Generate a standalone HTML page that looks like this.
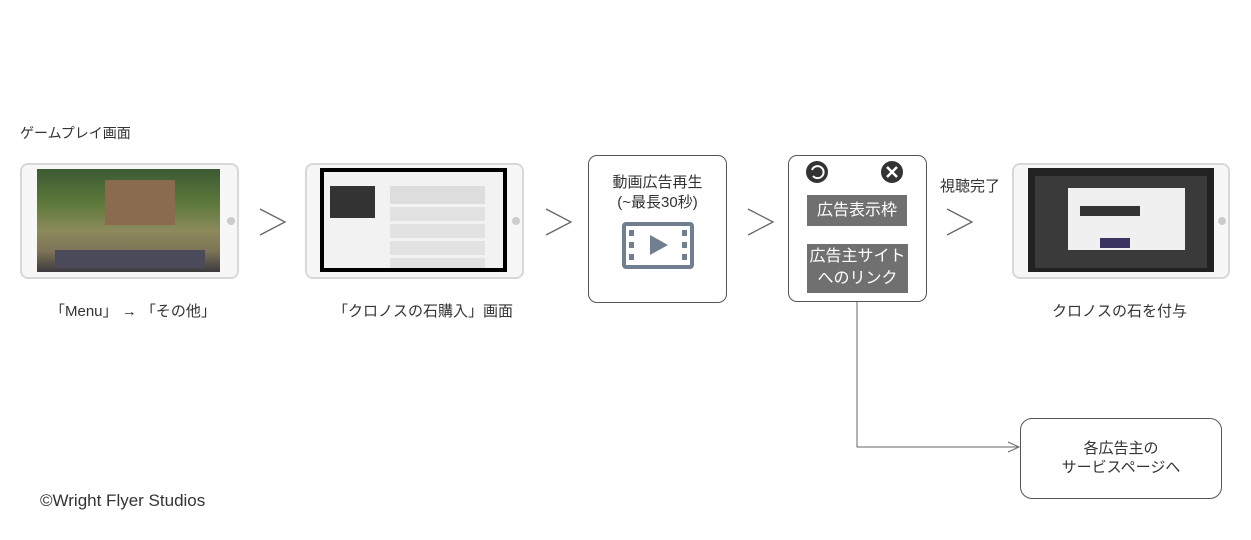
<!DOCTYPE html>
<html><head><meta charset="utf-8"><style>
body{margin:0;width:1251px;height:540px;background:#fff;position:relative;overflow:hidden;font-family:"Liberation Sans","Noto Sans CJK JP",sans-serif;color:#333}
.a{position:absolute}
.tab{position:absolute;border:2px solid #d8d8d8;border-radius:8px;background:#f7f7f7;box-sizing:border-box}
.dot{position:absolute;width:8px;height:8px;border-radius:50%;background:#ccc}
.box{position:absolute;border:1px solid #555;border-radius:9px;box-sizing:border-box;background:#fff}
.t{position:absolute;font-size:15px;white-space:nowrap}
.gb{position:absolute;background:#707070;color:#fff;font-size:16px;text-align:center;line-height:22px}
</style></head><body>
<div class="t" style="left:20px;top:123px;font-size:14px">ゲームプレイ画面</div>

<div class="tab" style="left:20px;top:163px;width:219px;height:116px"></div>
<div class="a" style="left:37px;top:169px;width:183px;height:103px;background:linear-gradient(180deg,#3c5a33 0%,#5f7a3c 35%,#8c8a5c 60%,#7d7356 80%,#3b3a3e 100%)"></div>
<div class="a" style="left:105px;top:180px;width:70px;height:45px;background:#8a6b4e"></div>
<div class="a" style="left:55px;top:250px;width:150px;height:18px;background:#4a4a5a"></div>
<div class="dot" style="left:227px;top:217px"></div>

<div class="tab" style="left:305px;top:163px;width:219px;height:116px"></div>
<div class="a" style="left:320px;top:168px;width:187px;height:104px;background:#000"></div>
<div class="a" style="left:324px;top:172px;width:179px;height:96px;background:#f2f2f2"></div>
<div class="a" style="left:330px;top:186px;width:45px;height:32px;background:#333"></div>
<div class="a" style="left:390px;top:186px;width:95px;height:18px;background:#ddd"></div>
<div class="a" style="left:390px;top:207px;width:95px;height:14px;background:#e2e2e2"></div>
<div class="a" style="left:390px;top:224px;width:95px;height:14px;background:#e2e2e2"></div>
<div class="a" style="left:390px;top:241px;width:95px;height:14px;background:#e2e2e2"></div>
<div class="a" style="left:390px;top:258px;width:95px;height:10px;background:#e2e2e2"></div>
<div class="dot" style="left:512px;top:217px"></div>

<div class="tab" style="left:1012px;top:163px;width:218px;height:116px"></div>
<div class="a" style="left:1028px;top:168px;width:186px;height:104px;background:#222"></div>
<div class="a" style="left:1035px;top:176px;width:172px;height:92px;background:#3a3a3a"></div>
<div class="a" style="left:1068px;top:188px;width:117px;height:62px;background:#f0f0f0"></div>
<div class="a" style="left:1080px;top:206px;width:60px;height:10px;background:#333"></div>
<div class="a" style="left:1100px;top:238px;width:30px;height:10px;background:#3a3560"></div>
<div class="dot" style="left:1218px;top:217px"></div>

<svg class="a" style="left:0;top:0" width="1251" height="540">
<g fill="none" stroke="#666" stroke-width="1.3">
<polyline points="260,209 285,222 260,235"/>
<polyline points="546,209 571,222 546,235"/>
<polyline points="748,209 773,222 748,235"/>
<polyline points="947,209 972,222 947,235"/>
<polyline points="857,301 857,447 1018,447" stroke-width="1"/>
<polyline points="1008,442 1019,447 1008,452" stroke-width="1"/>
</g>
</svg>

<div class="box" style="left:588px;top:155px;width:139px;height:148px"></div>
<div class="t" style="left:588px;top:173px;width:139px;text-align:center;line-height:20px">動画広告再生<br>(~最長30秒)</div>
<svg class="a" style="left:622px;top:222px" width="72" height="47"><rect x="2" y="2" width="68" height="43" rx="2" fill="none" stroke="#6f7f8f" stroke-width="4"/><g fill="#6f7f8f"><rect x="7" y="8" width="5" height="6"/><rect x="7" y="20" width="5" height="6"/><rect x="7" y="32" width="5" height="6"/><rect x="60" y="8" width="5" height="6"/><rect x="60" y="20" width="5" height="6"/><rect x="60" y="32" width="5" height="6"/><polygon points="28,13 46,23 28,33"/></g></svg>

<div class="box" style="left:788px;top:155px;width:139px;height:147px"></div>
<svg class="a" style="left:804px;top:159px" width="110" height="28"><circle cx="13" cy="13" r="11" fill="#333"/><path d="M8 11 A6 6 0 1 1 9 17" fill="none" stroke="#fff" stroke-width="2"/><circle cx="88" cy="13" r="11" fill="#333"/><path d="M83 8 L93 18 M93 8 L83 18" stroke="#fff" stroke-width="2.5"/></svg>
<div class="gb" style="left:807px;top:195px;width:100px;height:31px;line-height:31px">広告表示枠</div>
<div class="gb" style="left:807px;top:244px;width:101px;height:49px;padding-top:2px;box-sizing:border-box">広告主サイト<br>へのリンク</div>

<div class="t" style="left:940px;top:175px">視聴完了</div>
<div class="t" style="left:50px;top:300px">「Menu」 → 「その他」</div>
<div class="t" style="left:333px;top:300px">「クロノスの石購入」画面</div>
<div class="t" style="left:1052px;top:300px">クロノスの石を付与</div>

<div class="box" style="left:1020px;top:418px;width:202px;height:81px;border-radius:12px"></div>
<div class="t" style="left:1020px;top:439px;width:202px;text-align:center;line-height:19px">各広告主の<br>サービスページへ</div>

<div class="t" style="left:40px;top:491px;font-size:17px">©Wright Flyer Studios</div>
</body></html>
